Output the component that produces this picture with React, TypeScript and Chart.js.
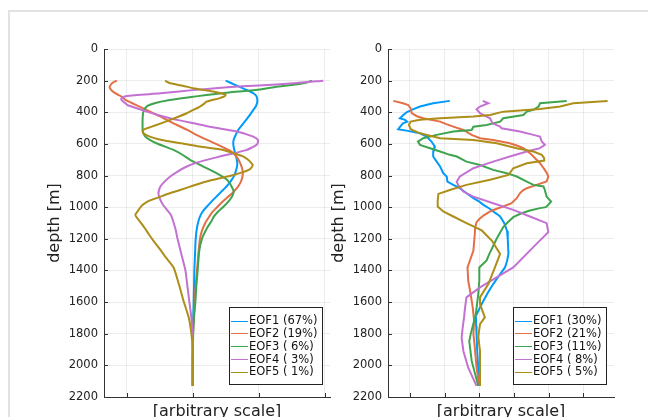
import React, { useEffect, useRef } from "react";
import { Chart, registerables } from "chart.js";

Chart.register(...registerables);

const FONT = '"DejaVu Sans", "Liberation Sans", sans-serif';
const palette = ["#009AFA", "#E36F47", "#3EA44E", "#C371D2", "#AC8E18"];

const depthTicks = [0, 200, 400, 600, 800, 1000, 1200, 1400, 1600, 1800, 2000, 2200];

const leftLabels = ["EOF1 (67%)", "EOF2 (19%)", "EOF3 ( 6%)", "EOF4 ( 3%)", "EOF5 ( 1%)"];
const rightLabels = ["EOF1 (30%)", "EOF2 (21%)", "EOF3 (11%)", "EOF4 ( 8%)", "EOF5 ( 5%)"];

const leftAmpTicks = [-1, 0, 1, 2];
const rightAmpTicks = [-2, -1, 0, 1, 2, 3];
const leftAmpRange = [-1.345, 2.082];
const rightAmpRange = [-2.633, 3.884];

// [depth (m), amplitude] pairs, left set
const leftEof1: [number, number][] = [
  [200, 0.5], [230, 0.66], [259, 0.82], [280, 0.92], [301, 0.97], [333, 0.98], [360, 0.96], [385, 0.92],
  [415, 0.87], [448, 0.81], [480, 0.75], [512, 0.69], [545, 0.65], [575, 0.62], [600, 0.615], [627, 0.625],
  [660, 0.645], [701, 0.67], [735, 0.675], [764, 0.66], [800, 0.63], [827, 0.59], [860, 0.53], [891, 0.46],
  [925, 0.38], [954, 0.31], [985, 0.24], [1017, 0.17], [1050, 0.12], [1084, 0.09], [1130, 0.065], [1200, 0.045],
  [1300, 0.035], [1400, 0.025], [1500, 0.02], [1600, 0.015], [1700, 0.008], [1800, 0.003], [1950, 0], [2130, 0],
];
const leftEof2: [number, number][] = [
  [200, -1.15], [215, -1.22], [242, -1.26], [265, -1.22], [285, -1.15], [300, -1.08], [322, -1.02], [350, -0.88],
  [385, -0.7], [425, -0.5], [470, -0.29], [510, -0.09], [554, 0.11], [590, 0.3], [617, 0.44], [640, 0.55],
  [660, 0.62], [690, 0.68], [722, 0.72], [755, 0.75], [785, 0.76], [815, 0.75], [848, 0.72], [880, 0.67],
  [912, 0.6], [940, 0.52], [970, 0.44], [1000, 0.37], [1030, 0.3], [1060, 0.25], [1100, 0.19], [1150, 0.14],
  [1200, 0.11], [1300, 0.085], [1400, 0.065], [1500, 0.045], [1600, 0.03], [1700, 0.015], [1800, 0.005], [1950, 0], [2130, 0],
];
const leftEof3: [number, number][] = [
  [200, 1.81], [215, 1.7], [227, 1.5], [240, 1.25], [259, 0.96], [275, 0.55], [291, 0.21], [305, -0.05],
  [322, -0.35], [340, -0.55], [364, -0.7], [400, -0.75], [450, -0.76], [500, -0.76], [520, -0.76], [540, -0.74],
  [554, -0.72], [575, -0.65], [596, -0.55], [617, -0.42], [638, -0.29], [670, -0.15], [701, -0.04], [743, 0.16],
  [785, 0.36], [827, 0.52], [869, 0.59], [900, 0.62], [930, 0.6], [960, 0.55], [996, 0.47], [1030, 0.38],
  [1060, 0.32], [1084, 0.29], [1130, 0.22], [1200, 0.14], [1274, 0.1], [1400, 0.075], [1500, 0.055], [1600, 0.04],
  [1700, 0.02], [1800, 0.008], [1950, 0], [2130, 0],
];
const leftEof4: [number, number][] = [
  [200, 1.98], [217, 1.53], [230, 1.0], [242, 0.52], [260, 0.0], [280, -0.49], [297, -1.0], [310, -1.08],
  [322, -1.08], [340, -1.03], [354, -0.99], [375, -0.85], [396, -0.7], [420, -0.5], [448, -0.24], [470, 0.02],
  [491, 0.26], [507, 0.48], [522, 0.67], [540, 0.82], [554, 0.92], [575, 0.99], [590, 0.99], [606, 0.97],
  [622, 0.9], [638, 0.82], [655, 0.67], [669, 0.52], [685, 0.36], [701, 0.21], [720, 0.05], [743, -0.09],
  [775, -0.23], [806, -0.34], [840, -0.43], [869, -0.49], [912, -0.52], [954, -0.49], [985, -0.45], [1017, -0.39],
  [1050, -0.33], [1084, -0.3], [1140, -0.26], [1200, -0.23], [1316, -0.16], [1400, -0.11], [1500, -0.08],
  [1600, -0.05], [1700, -0.02], [1800, 0], [1950, 0], [2130, 0],
];
const leftEof5: [number, number][] = [
  [200, -0.42], [217, -0.34], [232, -0.15], [248, 0.01], [260, 0.18], [269, 0.31], [280, 0.43], [290, 0.5],
  [300, 0.48], [312, 0.4], [325, 0.27], [333, 0.21], [350, 0.16], [364, 0.11], [385, 0.01], [406, -0.09],
  [427, -0.21], [448, -0.34], [470, -0.48], [491, -0.62], [512, -0.75], [533, -0.75], [554, -0.65], [570, -0.52],
  [585, -0.34], [600, -0.12], [617, 0.11], [638, 0.46], [660, 0.63], [680, 0.77], [700, 0.84], [712, 0.87],
  [733, 0.91], [750, 0.89], [764, 0.85], [780, 0.75], [796, 0.62], [815, 0.43], [838, 0.21], [865, 0.0],
  [891, -0.19], [912, -0.35], [933, -0.49], [950, -0.6], [964, -0.68], [990, -0.77], [1017, -0.82], [1048, -0.87],
  [1070, -0.84], [1091, -0.8], [1130, -0.73], [1168, -0.67], [1210, -0.6], [1253, -0.52], [1316, -0.41],
  [1381, -0.29], [1486, -0.21], [1591, -0.14], [1698, -0.06], [1800, -0.02], [1900, 0], [2130, 0],
];

// [depth (m), amplitude] pairs, right set
const rightEof1: [number, number][] = [
  [328, -0.85], [343, -1.33], [364, -1.71], [385, -1.95], [400, -2.1], [417, -2.19], [438, -2.29], [448, -2.14],
  [459, -2.08], [470, -2.2], [480, -2.24], [507, -2.34], [516, -2.1], [533, -1.71], [554, -1.52], [585, -1.38],
  [617, -1.28], [632, -1.3], [648, -1.33], [680, -1.33], [712, -1.23], [743, -1.13], [785, -1.04], [806, -0.94],
  [838, -0.92], [859, -0.75], [880, -0.56], [912, -0.37], [943, -0.17], [965, 0.0], [985, 0.12], [1010, 0.3],
  [1027, 0.4], [1042, 0.5], [1059, 0.6], [1101, 0.72], [1150, 0.8], [1200, 0.82], [1295, 0.84], [1340, 0.8],
  [1381, 0.74], [1430, 0.58], [1486, 0.4], [1540, 0.25], [1591, 0.12], [1634, 0.02], [1688, -0.1], [1750, -0.09],
  [1804, -0.08], [1909, -0.06], [2020, -0.03], [2130, 0.0],
];
const rightEof2: [number, number][] = [
  [328, -2.48], [343, -2.2], [354, -2.05], [375, -1.98], [406, -1.95], [425, -1.8], [438, -1.62], [459, -1.13],
  [475, -0.95], [491, -0.75], [512, -0.46], [543, -0.22], [564, 0.02], [575, 0.4], [596, 0.88], [612, 1.1],
  [627, 1.27], [648, 1.4], [669, 1.51], [695, 1.63], [722, 1.75], [743, 1.82], [764, 1.89], [785, 1.95],
  [806, 1.99], [838, 1.94], [859, 1.65], [880, 1.37], [895, 1.25], [912, 1.17], [943, 1.08], [975, 0.93],
  [996, 0.69], [1010, 0.5], [1027, 0.31], [1053, 0.12], [1075, 0.0], [1095, -0.08], [1130, -0.12], [1168, -0.13],
  [1274, -0.17], [1337, -0.27], [1381, -0.34], [1465, -0.32], [1549, -0.25], [1634, -0.19], [1718, -0.15],
  [1802, -0.17], [1887, -0.13], [2013, -0.08], [2130, 0.0],
];
const rightEof3: [number, number][] = [
  [328, 2.52], [343, 1.75], [364, 1.71], [385, 1.56], [396, 1.37], [417, 1.27], [438, 0.69], [459, 0.6],
  [480, 0.21], [491, -0.17], [512, -0.22], [522, -0.75], [543, -1.23], [564, -1.62], [585, -1.77], [606, -1.71],
  [627, -1.42], [648, -1.13], [669, -0.85], [680, -0.65], [712, -0.37], [733, 0.02], [764, 0.4], [785, 0.79],
  [806, 1.08], [838, 1.37], [859, 1.56], [869, 1.85], [891, 1.89], [933, 1.94], [964, 2.07], [985, 1.99],
  [1000, 1.92], [1006, 1.75], [1021, 1.46], [1040, 1.2], [1063, 0.98], [1100, 0.8], [1126, 0.69], [1200, 0.5],
  [1295, 0.29], [1337, 0.21], [1381, 0.0], [1465, 0.0], [1549, -0.03], [1676, -0.1], [1804, -0.25], [1846, -0.29],
  [1972, -0.22], [2130, -0.03],
];
const rightEof4: [number, number][] = [
  [328, 0.1], [343, 0.26], [364, 0.02], [381, -0.08], [406, 0.02], [427, 0.21], [438, 0.31], [470, 0.38],
  [491, 0.6], [501, 0.64], [522, 1.17], [543, 1.56], [554, 1.75], [585, 1.8], [606, 1.89], [627, 1.75],
  [648, 1.37], [680, 0.88], [712, 0.4], [754, -0.17], [806, -0.56], [838, -0.65], [859, -0.61], [901, -0.46],
  [933, -0.17], [975, 0.4], [1017, 0.98], [1059, 1.46], [1101, 1.94], [1158, 1.99], [1232, 1.65], [1381, 0.98],
  [1444, 0.5], [1507, 0.02], [1570, -0.37], [1634, -0.41], [1697, -0.44], [1761, -0.48], [1825, -0.51],
  [1909, -0.46], [2015, -0.32], [2130, -0.08],
];
const rightEof5: [number, number][] = [
  [328, 3.7], [343, 2.71], [364, 2.33], [379, 1.75], [396, 0.69], [417, 0.31], [427, -0.17], [438, -1.13],
  [448, -1.71], [459, -1.98], [480, -2.03], [507, -1.98], [533, -1.71], [564, -1.13], [575, -0.17], [596, 0.5],
  [627, 1.08], [648, 1.56], [669, 1.8], [690, 1.87], [705, 1.87], [722, 1.37], [754, 0.98], [796, 0.84],
  [827, 0.31], [859, -0.37], [891, -0.85], [916, -1.18], [960, -1.2], [996, -1.2], [1027, -1.04], [1059, -0.75],
  [1101, -0.37], [1147, 0.07], [1211, 0.36], [1295, 0.6], [1381, 0.45], [1486, 0.26], [1570, 0.02], [1613, 0.02],
  [1697, 0.16], [1739, 0.02], [1819, -0.03], [1909, 0.02], [2130, 0.02],
];

// Short tick marks pointing into the plot area
const insideTicks = {
  id: "insideTicks",
  afterDraw(chart: any) {
    const { ctx, chartArea: a, scales } = chart;
    ctx.save();
    ctx.strokeStyle = "#333";
    ctx.lineWidth = 1;
    ctx.beginPath();
    for (const t of scales.y.ticks) {
      const py = Math.round(scales.y.getPixelForValue(t.value)) + 0.5;
      ctx.moveTo(a.left, py);
      ctx.lineTo(a.left + 4, py);
    }
    for (const t of scales.x.ticks) {
      const px = Math.round(scales.x.getPixelForValue(t.value)) + 0.5;
      ctx.moveTo(px, a.bottom);
      ctx.lineTo(px, a.bottom - 4);
    }
    ctx.stroke();
    ctx.restore();
  },
};

// Framed legend in the lower right corner of the plot area
const boxLegend = {
  id: "boxLegend",
  afterDraw(chart: any) {
    const { ctx, chartArea: a } = chart;
    const sets = chart.data.datasets;
    ctx.save();
    ctx.font = `11.5px ${FONT}`;
    const maxW = Math.max(...sets.map((d: any) => ctx.measureText(d.label).width));
    const rowH = 12.85;
    const w = 2 + 17 + 1 + maxW + 5;
    const h = 77;
    const right = a.right - 8;
    const bottom = a.bottom - 13.5;
    const left = Math.round(right - w);
    const top = Math.round(bottom - h);
    ctx.fillStyle = "#ffffff";
    ctx.fillRect(left, top, Math.round(w), h);
    ctx.strokeStyle = "#222";
    ctx.lineWidth = 1;
    ctx.strokeRect(left + 0.5, top + 0.5, Math.round(w), h);
    sets.forEach((d: any, i: number) => {
      const y = top + 13.6 + i * rowH;
      ctx.strokeStyle = d.borderColor;
      ctx.beginPath();
      ctx.moveTo(left + 2, Math.round(y) + 0.5);
      ctx.lineTo(left + 19, Math.round(y) + 0.5);
      ctx.stroke();
      ctx.fillStyle = "#111";
      ctx.textBaseline = "middle";
      ctx.textAlign = "left";
      ctx.fillText(d.label, left + 20, y + 0.5);
    });
    ctx.restore();
  },
};

function makeConfig(
  labels: string[],
  series: [number, number][][],
  range: number[],
  ampTicks: number[],
  tension: number
): any {
  const gridColor = "rgba(0,0,0,0.075)";
  return {
    type: "scatter",
    data: {
      datasets: series.map((s, i) => ({
        label: labels[i],
        data: s.map(([d, v]) => ({ x: v, y: d })),
        showLine: true,
        borderColor: palette[i],
        backgroundColor: palette[i],
        borderWidth: 2,
        pointRadius: 0,
        pointHoverRadius: 0,
        tension,
        fill: false,
        order: series.length - 1 - i,
      })),
    },
    options: {
      responsive: false,
      animation: false,
      events: [],
      layout: { padding: { top: 49, right: 10, left: 0, bottom: 0 } },
      plugins: { legend: { display: false }, tooltip: { enabled: false } },
      scales: {
        x: {
          type: "linear",
          min: range[0],
          max: range[1],
          afterBuildTicks: (s: any) => {
            s.ticks = ampTicks.map((v) => ({ value: v }));
          },
          afterFit: (s: any) => {
            s.height = 43;
          },
          ticks: { display: false },
          grid: { color: gridColor, lineWidth: 1, drawTicks: false },
          border: { display: true, color: "#333", width: 1 },
          title: {
            display: true,
            text: "[arbitrary scale]",
            font: { family: FONT, size: 16 },
            color: "#222",
            padding: { top: 0, bottom: 18.7 },
          },
        },
        y: {
          type: "linear",
          reverse: true,
          min: 0,
          max: 2200,
          afterBuildTicks: (s: any) => {
            s.ticks = depthTicks.map((v) => ({ value: v }));
          },
          afterFit: (s: any) => {
            s.width = 104;
          },
          ticks: {
            font: { family: FONT, size: 11.5 },
            color: "#222",
            padding: 6,
            callback: (v: any) => String(v),
          },
          grid: { color: gridColor, lineWidth: 1, drawTicks: false },
          border: { display: true, color: "#333", width: 1 },
          title: {
            display: true,
            text: "depth [m]",
            font: { family: FONT, size: 16 },
            color: "#222",
            padding: { top: 45, bottom: 0 },
          },
        },
      },
    },
    plugins: [insideTicks, boxLegend],
  };
}

export default function App() {
  const leftRef = useRef<HTMLCanvasElement>(null);
  const rightRef = useRef<HTMLCanvasElement>(null);

  useEffect(() => {
    const left = new Chart(
      leftRef.current!,
      makeConfig(leftLabels, [leftEof1, leftEof2, leftEof3, leftEof4, leftEof5], leftAmpRange, leftAmpTicks, 0.2)
    );
    const right = new Chart(
      rightRef.current!,
      makeConfig(rightLabels, [rightEof1, rightEof2, rightEof3, rightEof4, rightEof5], rightAmpRange, rightAmpTicks, 0)
    );
    return () => {
      left.destroy();
      right.destroy();
    };
  }, []);

  return (
    <div
      style={{
        position: "absolute",
        left: 0,
        top: 0,
        width: 648,
        height: 417,
        overflow: "hidden",
        background: "#fff",
      }}
    >
      <div
        style={{
          position: "absolute",
          left: 8,
          top: 10,
          width: 660,
          height: 430,
          borderTop: "2px solid #e2e2e2",
          borderLeft: "2px solid #e2e2e2",
        }}
      />
      <canvas
        ref={leftRef}
        width={340}
        height={440}
        style={{ position: "absolute", left: 0, top: 0, width: 340, height: 440 }}
      />
      <canvas
        ref={rightRef}
        width={340}
        height={440}
        style={{ position: "absolute", left: 284, top: 0, width: 340, height: 440 }}
      />
    </div>
  );
}
